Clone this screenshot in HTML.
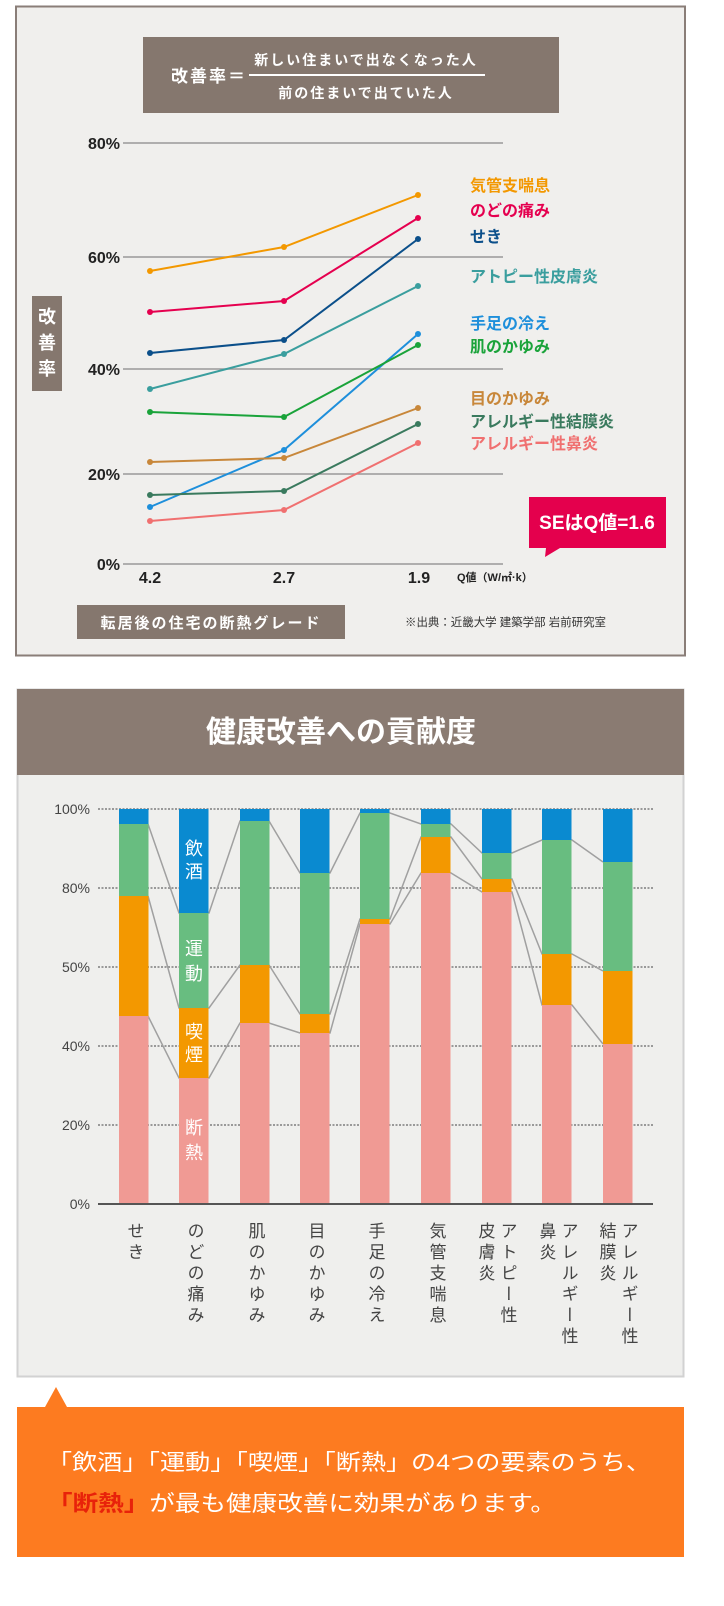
<!DOCTYPE html>
<html><head><meta charset="utf-8">
<style>
html,body{margin:0;padding:0;background:#fff;}
svg{display:block;}
text{font-family:"Liberation Sans","Noto Sans CJK JP",sans-serif;}
</style></head>
<body>
<svg width="724" height="1606" viewBox="0 0 724 1606" xmlns="http://www.w3.org/2000/svg">
<!-- TOP CHART -->
<rect x="16" y="6.5" width="669" height="649" fill="#f0efed" stroke="#8a7e78" stroke-width="2"/>
<rect x="143" y="37" width="416" height="76" fill="#85776e"/>
<text x="171" y="82" font-size="17" font-weight="bold" fill="#fff" letter-spacing="2">改善率＝</text>
<line x1="249" y1="75" x2="485" y2="75" stroke="#fff" stroke-width="2"/>
<text x="366" y="65" font-size="14" font-weight="bold" fill="#fff" text-anchor="middle" letter-spacing="2">新しい住まいで出なくなった人</text>
<text x="366" y="98" font-size="14" font-weight="bold" fill="#fff" text-anchor="middle" letter-spacing="2">前の住まいで出ていた人</text>

<g stroke="#999" stroke-width="1.5">
<line x1="123" y1="143" x2="503" y2="143"/>
<line x1="123" y1="257" x2="503" y2="257"/>
<line x1="123" y1="369" x2="503" y2="369"/>
<line x1="123" y1="474" x2="503" y2="474"/>
<line x1="123" y1="564" x2="503" y2="564"/>
</g>
<g font-size="16" font-weight="bold" fill="#222" text-anchor="end">
<text x="120" y="149">80%</text>
<text x="120" y="263">60%</text>
<text x="120" y="375">40%</text>
<text x="120" y="480">20%</text>
<text x="120" y="570">0%</text>
</g>
<rect x="32" y="296" width="30" height="95" fill="#85776e"/>
<g font-size="18" font-weight="bold" fill="#fff" text-anchor="middle">
<text x="47" y="323">改</text><text x="47" y="349">善</text><text x="47" y="375">率</text>
</g>

<g fill="none" stroke-width="2">
<polyline stroke="#f39800" points="150,271 284,247 418,195"/>
<polyline stroke="#e5004f" points="150,312 284,301 418,218"/>
<polyline stroke="#0b4f8a" points="150,353 284,340 418,239"/>
<polyline stroke="#3a9e9e" points="150,389 284,354 418,286"/>
<polyline stroke="#1e8fdb" points="150,507 284,450 418,334"/>
<polyline stroke="#1aa33a" points="150,412 284,417 418,345"/>
<polyline stroke="#c8873a" points="150,462 284,458 418,408"/>
<polyline stroke="#3a7a5e" points="150,495 284,491 418,424"/>
<polyline stroke="#f07070" points="150,521 284,510 418,443"/>
</g>
<g>
<g fill="#f39800"><circle cx="150" cy="271" r="3"/><circle cx="284" cy="247" r="3"/><circle cx="418" cy="195" r="3"/></g>
<g fill="#e5004f"><circle cx="150" cy="312" r="3"/><circle cx="284" cy="301" r="3"/><circle cx="418" cy="218" r="3"/></g>
<g fill="#0b4f8a"><circle cx="150" cy="353" r="3"/><circle cx="284" cy="340" r="3"/><circle cx="418" cy="239" r="3"/></g>
<g fill="#3a9e9e"><circle cx="150" cy="389" r="3"/><circle cx="284" cy="354" r="3"/><circle cx="418" cy="286" r="3"/></g>
<g fill="#1e8fdb"><circle cx="150" cy="507" r="3"/><circle cx="284" cy="450" r="3"/><circle cx="418" cy="334" r="3"/></g>
<g fill="#1aa33a"><circle cx="150" cy="412" r="3"/><circle cx="284" cy="417" r="3"/><circle cx="418" cy="345" r="3"/></g>
<g fill="#c8873a"><circle cx="150" cy="462" r="3"/><circle cx="284" cy="458" r="3"/><circle cx="418" cy="408" r="3"/></g>
<g fill="#3a7a5e"><circle cx="150" cy="495" r="3"/><circle cx="284" cy="491" r="3"/><circle cx="418" cy="424" r="3"/></g>
<g fill="#f07070"><circle cx="150" cy="521" r="3"/><circle cx="284" cy="510" r="3"/><circle cx="418" cy="443" r="3"/></g>
</g>
<g font-size="16" font-weight="bold">
<text x="470" y="191" fill="#f39800">気管支喘息</text>
<text x="470" y="216" fill="#e5004f">のどの痛み</text>
<text x="470" y="242" fill="#0b4f8a">せき</text>
<text x="470" y="282" fill="#3a9e9e">アトピー性皮膚炎</text>
<text x="470" y="329" fill="#1e8fdb">手足の冷え</text>
<text x="470" y="352" fill="#1aa33a">肌のかゆみ</text>
<text x="470" y="404" fill="#c8873a">目のかゆみ</text>
<text x="470" y="427" fill="#3a7a5e">アレルギー性結膜炎</text>
<text x="470" y="449" fill="#f07070">アレルギー性鼻炎</text>
</g>
<g font-size="16" font-weight="bold" fill="#222" text-anchor="middle">
<text x="150" y="583">4.2</text><text x="284" y="583">2.7</text><text x="419" y="583">1.9</text>
</g>
<text x="457" y="581" font-size="11" font-weight="bold" fill="#222">Q値（W/㎡·k）</text>
<path d="M529,497 H666 V548 H560 L545,557 L546,548 H529 Z" fill="#e4004d"/>
<text x="597" y="529" font-size="19" font-weight="bold" fill="#fff" text-anchor="middle">SEはQ値=1.6</text>
<rect x="77" y="605" width="268" height="34" fill="#85776e"/>
<text x="211" y="628" font-size="15" font-weight="bold" fill="#fff" text-anchor="middle" letter-spacing="2">転居後の住宅の断熱グレード</text>
<text x="405" y="626" font-size="11.5" fill="#333" textLength="201" lengthAdjust="spacingAndGlyphs">※出典：近畿大学 建築学部 岩前研究室</text>

<!-- BOTTOM CHART -->
<rect x="17.5" y="689.5" width="666" height="687" fill="#efefed" stroke="#d2d2d2" stroke-width="2"/>
<rect x="17" y="689" width="667" height="86" fill="#8a7b72"/>
<text x="341" y="742" font-size="30" font-weight="bold" fill="#fff" text-anchor="middle">健康改善への貢献度</text>

<g stroke="#999" stroke-width="2" stroke-dasharray="2,1.5">
<line x1="98" y1="809" x2="653" y2="809"/>
<line x1="98" y1="888" x2="653" y2="888"/>
<line x1="98" y1="967" x2="653" y2="967"/>
<line x1="98" y1="1046" x2="653" y2="1046"/>
<line x1="98" y1="1125" x2="653" y2="1125"/>
</g>
<g font-size="14" fill="#444" text-anchor="end">
<text x="90" y="814">100%</text><text x="90" y="893">80%</text><text x="90" y="972">50%</text>
<text x="90" y="1051">40%</text><text x="90" y="1130">20%</text><text x="90" y="1209">0%</text>
</g>

<g stroke="#a0a0a0" stroke-width="1.5" fill="none">
<polyline points="148,1016 179,1078 209,1078 240,1023 269,1023 300,1033 330,1033 360,924 390,924 421,873 451,873 482,892 512,892 542,1005 572,1005 603,1044"/>
<polyline points="148,896 179,1008 209,1008 240,965 269,965 300,1014 330,1014 360,919 390,919 421,837 451,837 482,879 512,879 542,954 572,954 603,971"/>
<polyline points="148,824 179,913 209,913 240,821 269,821 300,873 330,873 360,813 390,813 421,824 451,824 482,853 512,853 542,840 572,840 603,862"/>
</g>
<g>
<rect x="119" y="809" width="29.5" height="15" fill="#0a8ad0"/><rect x="119" y="824" width="29.5" height="72" fill="#68bd80"/><rect x="119" y="896" width="29.5" height="120" fill="#f39800"/><rect x="119" y="1016" width="29.5" height="188" fill="#f09a94"/>
<rect x="179" y="809" width="29.5" height="104" fill="#0a8ad0"/><rect x="179" y="913" width="29.5" height="95" fill="#68bd80"/><rect x="179" y="1008" width="29.5" height="70" fill="#f39800"/><rect x="179" y="1078" width="29.5" height="126" fill="#f09a94"/>
<rect x="240" y="809" width="29.5" height="12" fill="#0a8ad0"/><rect x="240" y="821" width="29.5" height="144" fill="#68bd80"/><rect x="240" y="965" width="29.5" height="58" fill="#f39800"/><rect x="240" y="1023" width="29.5" height="181" fill="#f09a94"/>
<rect x="300" y="809" width="29.5" height="64" fill="#0a8ad0"/><rect x="300" y="873" width="29.5" height="141" fill="#68bd80"/><rect x="300" y="1014" width="29.5" height="19" fill="#f39800"/><rect x="300" y="1033" width="29.5" height="171" fill="#f09a94"/>
<rect x="360" y="809" width="29.5" height="4" fill="#0a8ad0"/><rect x="360" y="813" width="29.5" height="106" fill="#68bd80"/><rect x="360" y="919" width="29.5" height="5" fill="#f39800"/><rect x="360" y="924" width="29.5" height="280" fill="#f09a94"/>
<rect x="421" y="809" width="29.5" height="15" fill="#0a8ad0"/><rect x="421" y="824" width="29.5" height="13" fill="#68bd80"/><rect x="421" y="837" width="29.5" height="36" fill="#f39800"/><rect x="421" y="873" width="29.5" height="331" fill="#f09a94"/>
<rect x="482" y="809" width="29.5" height="44" fill="#0a8ad0"/><rect x="482" y="853" width="29.5" height="26" fill="#68bd80"/><rect x="482" y="879" width="29.5" height="13" fill="#f39800"/><rect x="482" y="892" width="29.5" height="312" fill="#f09a94"/>
<rect x="542" y="809" width="29.5" height="31" fill="#0a8ad0"/><rect x="542" y="840" width="29.5" height="114" fill="#68bd80"/><rect x="542" y="954" width="29.5" height="51" fill="#f39800"/><rect x="542" y="1005" width="29.5" height="199" fill="#f09a94"/>
<rect x="603" y="809" width="29.5" height="53" fill="#0a8ad0"/><rect x="603" y="862" width="29.5" height="109" fill="#68bd80"/><rect x="603" y="971" width="29.5" height="73" fill="#f39800"/><rect x="603" y="1044" width="29.5" height="160" fill="#f09a94"/>
</g>
<line x1="98" y1="1204" x2="653" y2="1204" stroke="#555" stroke-width="2"/>
<g font-size="18" fill="#fff" text-anchor="middle">
<text x="194" y="855">飲</text><text x="194" y="878">酒</text>
<text x="194" y="955">運</text><text x="194" y="980">動</text>
<text x="194" y="1038">喫</text><text x="194" y="1061">煙</text>
<text x="194" y="1134">断</text><text x="194" y="1159">熱</text>
</g>
<g font-size="17" fill="#444" style="writing-mode:vertical-rl;" letter-spacing="4">
<text x="134" y="1222">せき</text>
<text x="194" y="1222">のどの痛み</text>
<text x="255" y="1222">肌のかゆみ</text>
<text x="315" y="1222">目のかゆみ</text>
<text x="375" y="1222">手足の冷え</text>
<text x="436" y="1222">気管支喘息</text>
<text x="507" y="1222">アトピー性</text><text x="485" y="1222">皮膚炎</text>
<text x="568" y="1222">アレルギー性</text><text x="546" y="1222">鼻炎</text>
<text x="628" y="1222">アレルギー性</text><text x="606" y="1222">結膜炎</text>
</g>

<path d="M17,1407 H45 L56,1387 L67,1407 H684 V1557 H17 Z" fill="#fd7b20"/>
<text x="47" y="1470" font-size="22" fill="#fff" textLength="604" lengthAdjust="spacingAndGlyphs">「飲酒」「運動」「喫煙」「断熱」の4つの要素のうち、</text>
<text x="47" y="1511" font-size="22" fill="#fff" textLength="509" lengthAdjust="spacingAndGlyphs"><tspan fill="#e8220a" font-weight="bold">「断熱」</tspan>が最も健康改善に効果があります。</text>
</svg>
</body></html>
